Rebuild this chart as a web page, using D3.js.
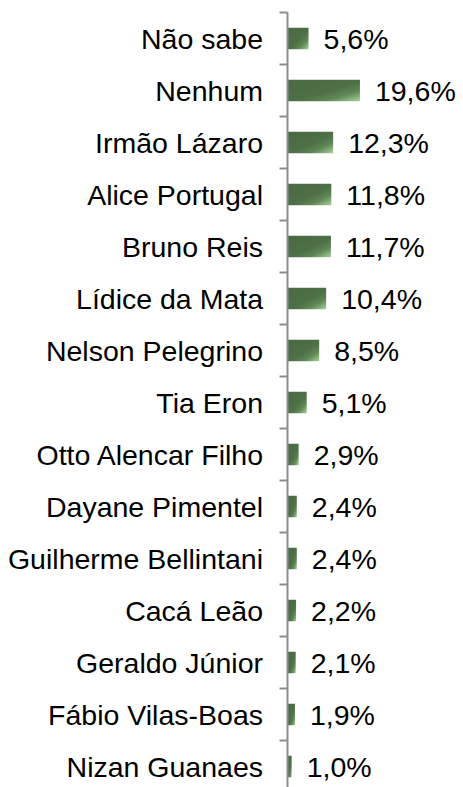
<!DOCTYPE html>
<html><head><meta charset="utf-8">
<script src="https://cdn.jsdelivr.net/npm/d3@7"></script>
<style>body{margin:0;background:#fff}svg{display:block}</style>
</head><body>
<svg id="c" width="463" height="787"></svg>
<script>
const categories = ["Não sabe","Nenhum","Irmão Lázaro","Alice Portugal","Bruno Reis","Lídice da Mata","Nelson Pelegrino","Tia Eron","Otto Alencar Filho","Dayane Pimentel","Guilherme Bellintani","Cacá Leão","Geraldo Júnior","Fábio Vilas-Boas","Nizan Guanaes"];
const values = [5.6,19.6,12.3,11.8,11.7,10.4,8.5,5.1,2.9,2.4,2.4,2.2,2.1,1.9,1.0];
const valueLabels = ["5,6%","19,6%","12,3%","11,8%","11,7%","10,4%","8,5%","5,1%","2,9%","2,4%","2,4%","2,2%","2,1%","1,9%","1,0%"];

(function(){
const svg = d3.select("#c");
const axisX = 287.5, y0 = 12.5, step = 52;
const y = d3.scaleBand().domain(categories).range([y0, y0 + step*categories.length]).paddingInner(0).paddingOuter(0);
const x = d3.scaleLinear().domain([0,20]).range([288, 288+73.4]);

const defs = svg.append("defs");
const g = defs.append("linearGradient").attr("id","bg").attr("x1",0).attr("y1",0).attr("x2",1).attr("y2",1);
g.append("stop").attr("offset","0%").attr("stop-color","#4a6a41");
g.append("stop").attr("offset","55%").attr("stop-color","#4e7046");
g.append("stop").attr("offset","75%").attr("stop-color","#5f8756");
g.append("stop").attr("offset","100%").attr("stop-color","#a9d19b");

const barH = 21.5;
svg.selectAll("rect.bar").data(values).join("rect").attr("class","bar")
  .attr("x", x(0))
  .attr("y", (d,i)=> y(categories[i]) + y.bandwidth()/2 - barH/2)
  .attr("width", d=> x(d)-x(0))
  .attr("height", barH)
  .attr("fill","url(#bg)");

const ag = svg.append("g").attr("transform",`translate(${axisX},0)`);
ag.append("line").attr("x1",0).attr("x2",0).attr("y1",y0).attr("y2",y0+step*categories.length).attr("stroke","#8a8d93").attr("stroke-width",2);
ag.selectAll("line.tk").data(d3.range(categories.length+1)).join("line").attr("class","tk")
  .attr("x1",-8).attr("x2",0)
  .attr("y1",i=>y0+i*step).attr("y2",i=>y0+i*step)
  .attr("stroke","#8a8d93").attr("stroke-width",2);

svg.selectAll("text.cat").data(categories).join("text").attr("class","cat")
  .attr("x", axisX - 24.5)
  .attr("y", d=> y(d) + y.bandwidth()/2 + 1)
  .attr("dy","0.35em")
  .attr("text-anchor","end")
  .attr("font-family","'Liberation Sans', Arial, sans-serif")
  .attr("font-size",28.5)
  .attr("fill","#000")
  .text(d=>d);

svg.selectAll("text.val").data(values).join("text").attr("class","val")
  .attr("x", d=> x(d) + 15)
  .attr("y", (d,i)=> y(categories[i]) + y.bandwidth()/2 + 1)
  .attr("dy","0.35em")
  .attr("font-family","'Liberation Sans', Arial, sans-serif")
  .attr("font-size",28.5)
  .attr("fill","#000")
  .text((d,i)=>valueLabels[i]);
})();
</script>
</body></html>
